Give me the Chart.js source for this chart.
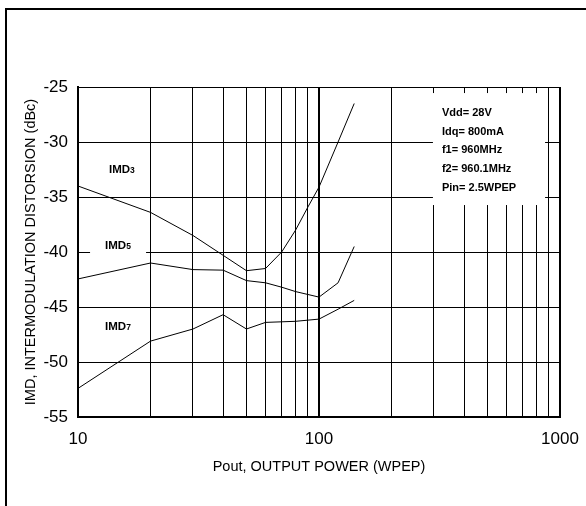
<!DOCTYPE html>
<html>
<head>
<meta charset="utf-8">
<script src="https://cdn.jsdelivr.net/npm/chart.js@4/dist/chart.umd.min.js"></script>
<style>
  body { margin: 0; background: #fff; }
  #wrap { width: 586px; height: 506px; position: relative; }
</style>
</head>
<body>
<div id="wrap"><canvas id="chart"></canvas></div>
<script>
// Pout (W) and IMD (dBc)
const imd3Pout = [10, 20, 30, 40, 50, 60, 70, 80, 90, 100, 120, 140];
const imd3Vals = [-34.0, -36.4, -38.5, -40.3, -41.7, -41.5, -40.0, -38.0, -35.9, -34.1, -30.0, -26.5];

const imd5Pout = [10, 20, 30, 40, 50, 60, 70, 80, 100, 120, 140];
const imd5Vals = [-42.45, -41.0, -41.6, -41.65, -42.6, -42.8, -43.2, -43.6, -44.1, -42.8, -39.5];

const imd7Pout = [10, 20, 30, 40, 50, 60, 80, 100, 120, 140];
const imd7Vals = [-52.4, -48.1, -47.0, -45.7, -47.0, -46.4, -46.3, -46.1, -45.2, -44.4];

const xGridValues = [10, 20, 30, 40, 50, 60, 70, 80, 90, 100, 200, 300, 400, 500, 600, 700, 800, 900, 1000];
const xLabelValues = [10, 100, 1000];

const infoLines = ['Vdd= 28V', 'Idq= 800mA', 'f1= 960MHz', 'f2= 960.1MHz', 'Pin= 2.5WPEP'];

const FONT = 'Arial, "Liberation Sans", sans-serif';

function toPoints(xs, ys) {
    return xs.map((x, i) => ({ x: x, y: ys[i] }));
}

function lineSet(label, xs, ys) {
    return {
        label: label,
        data: toPoints(xs, ys),
        borderColor: '#000',
        borderWidth: 1,
        pointRadius: 0,
        tension: 0,
        fill: false
    };
}

// outer frame, info box and curve labels
const decorations = {
    id: 'decorations',
    beforeDraw(chart) {
        const ctx = chart.ctx;
        ctx.save();
        ctx.fillStyle = '#fff';
        ctx.fillRect(0, 0, chart.width, chart.height);
        ctx.fillStyle = '#000';
        ctx.fillRect(5, 8, chart.width, 2);
        ctx.fillRect(5, 8, 2, chart.height);
        ctx.restore();
    },
    afterDatasetsDraw(chart) {
        const ctx = chart.ctx;
        const xs = chart.scales.x, ys = chart.scales.y;
        ctx.save();

        // parameter box
        const bx1 = xs.getPixelForValue(297), bx2 = xs.getPixelForValue(867);
        const by1 = ys.getPixelForValue(-25.55), by2 = ys.getPixelForValue(-35.73);
        ctx.fillStyle = '#fff';
        ctx.fillRect(bx1, by1, bx2 - bx1, by2 - by1);
        ctx.fillStyle = '#000';
        ctx.font = 'bold 11px ' + FONT;
        ctx.textBaseline = 'alphabetic';
        infoLines.forEach((t, i) => {
            ctx.fillText(t, bx1 + 9, by1 + 23 + i * 18.7);
        });

        // curve labels: IMD + small order digit
        const labels = [
            { n: '3', x: 13.45, y: -32.85, box: false },
            { n: '5', x: 12.95, y: -39.75, box: true },
            { n: '7', x: 12.95, y: -47.1, box: false }
        ];
        labels.forEach(l => {
            const px = xs.getPixelForValue(l.x), py = ys.getPixelForValue(l.y);
            if (l.box) {
                ctx.fillStyle = '#fff';
                ctx.fillRect(px - 15, py - 14, 56, 21);
            }
            ctx.fillStyle = '#000';
            ctx.font = 'bold 11.5px ' + FONT;
            ctx.fillText('IMD', px, py);
            const w = ctx.measureText('IMD').width;
            ctx.font = 'bold 8.5px ' + FONT;
            ctx.fillText(l.n, px + w, py);
        });
        ctx.restore();
    }
};

new Chart(document.getElementById('chart'), {
    type: 'line',
    data: {
        datasets: [
            lineSet('IMD3', imd3Pout, imd3Vals),
            lineSet('IMD5', imd5Pout, imd5Vals),
            lineSet('IMD7', imd7Pout, imd7Vals)
        ]
    },
    options: {
        responsive: true,
        maintainAspectRatio: false,
        animation: false,
        layout: { padding: { left: 0, top: 87, right: 26, bottom: 0 } },
        plugins: { legend: { display: false }, tooltip: { enabled: false } },
        scales: {
            x: {
                type: 'logarithmic',
                min: 10,
                max: 1000,
                afterBuildTicks(scale) {
                    scale.ticks = xGridValues.map(v => ({ value: v }));
                },
                afterFit(scale) {
                    scale.height = 89;
                    scale.paddingLeft = 0;
                    scale.paddingRight = 0;
                },
                ticks: {
                    autoSkip: false,
                    maxRotation: 0,
                    padding: 12,
                    color: '#000',
                    font: { family: FONT, size: 17 },
                    callback: (v) => xLabelValues.includes(v) ? String(v) : ''
                },
                grid: {
                    color: '#000',
                    drawTicks: false,
                    lineWidth: (c) => (c.tick && (c.tick.value === 100 || c.tick.value === 1000)) ? 2 : 1
                },
                border: { color: '#000', width: 2 },
                title: {
                    display: true,
                    text: 'Pout, OUTPUT POWER (WPEP)',
                    color: '#000',
                    font: { family: FONT, size: 14.5 },
                    padding: { top: 0, bottom: 30 }
                }
            },
            y: {
                min: -55,
                max: -25,
                afterFit(scale) { scale.width = 78; },
                ticks: {
                    stepSize: 5,
                    padding: 10,
                    color: '#000',
                    font: { family: FONT, size: 17 }
                },
                grid: { color: '#000', drawTicks: false, lineWidth: 1 },
                border: { color: '#000', width: 2 },
                title: {
                    display: true,
                    text: 'IMD, INTERMODULATION DISTORSION (dBc)',
                    color: '#000',
                    font: { family: FONT, size: 14.5 },
                    padding: { top: 22, bottom: 0 }
                }
            }
        }
    },
    plugins: [decorations]
});
</script>
</body>
</html>
